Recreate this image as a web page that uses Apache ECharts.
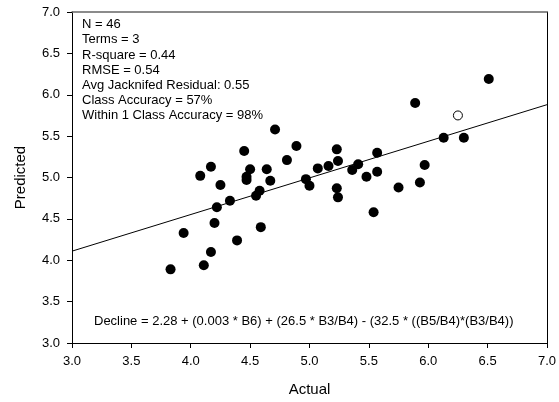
<!DOCTYPE html>
<html>
<head>
<meta charset="utf-8">
<script src="https://cdn.jsdelivr.net/npm/echarts@6/dist/echarts.min.js"></script>
<style>
  html, body { margin: 0; padding: 0; background: #fff; }
  #chart { width: 559px; height: 402px; }
</style>
</head>
<body>
<div id="chart"></div>
<script>
// actual vs predicted
var actual = [4.71, 4.45, 4.89, 4.81, 5.23, 5.24, 4.17, 4.08, 4.50, 4.64,
              4.47, 4.47, 4.67, 4.25, 5.07, 5.16, 4.97, 5.00, 5.23, 5.24,
              4.58, 4.55, 4.33, 4.22, 4.20, 3.94, 4.59, 4.39, 4.17, 4.11,
              3.83, 6.51, 5.89, 6.13, 6.30, 5.57, 5.41, 5.36, 5.48, 5.57,
              5.97, 5.75, 5.93, 5.54];
var predicted = [5.58, 5.32, 5.38, 5.21, 5.34, 5.20, 5.13, 5.02, 5.10, 5.10,
                 5.01, 4.97, 4.96, 4.91, 5.11, 5.14, 4.98, 4.90, 4.87, 4.76,
                 4.84, 4.78, 4.72, 4.64, 4.45, 4.33, 4.40, 4.24, 4.10, 3.94,
                 3.89, 6.19, 5.90, 5.48, 5.48, 5.30, 5.16, 5.09, 5.01, 5.07,
                 5.15, 4.88, 4.94, 4.58];
// the one open circle
var openActual = [6.25];
var openPredicted = [5.75];
// fitted line end points
var fitX = [3.0, 7.0];
var fitY = [4.11, 5.88];

var statsLines = [
    'N = 46',
    'Terms = 3',
    'R-square = 0.44',
    'RMSE = 0.54',
    'Avg Jacknifed Residual: 0.55',
    'Class Accuracy = 57%',
    'Within 1 Class Accuracy = 98%'
];
var equationText = 'Decline = 2.28 + (0.003 * B6) + (26.5 * B3/B4) - (32.5 * ((B5/B4)*(B3/B4))';

var FONT = '"Liberation Sans", Arial, sans-serif';

function pairs(xs, ys) {
    var out = [];
    for (var i = 0; i < xs.length; i++) out.push([xs[i], ys[i]]);
    return out;
}

var chart = echarts.init(document.getElementById('chart'));

var option = {
    animation: false,
    backgroundColor: '#fff',
    grid: { left: 72, right: 10, top: 12, bottom: 55 },
    xAxis: [{
        type: 'value', min: 3, max: 7, interval: 0.5,
        name: 'Actual', nameLocation: 'middle', nameGap: 39,
        nameTextStyle: { fontFamily: FONT, fontSize: 15, color: '#000' },
        axisLine: { onZero: false, lineStyle: { color: '#000', width: 1 } },
        axisTick: { show: true, inside: false, length: 5, lineStyle: { color: '#000' } },
        axisLabel: {
            fontFamily: FONT, fontSize: 13, color: '#000', margin: 12,
            formatter: function(v) { return v.toFixed(1); }
        },
        splitLine: { show: false }
    }, {
        type: 'value', min: 3, max: 7, position: 'top',
        axisLine: { show: true, onZero: false, lineStyle: { color: '#666', width: 1.5 } },
        axisTick: { show: false }, axisLabel: { show: false }, splitLine: { show: false }
    }],
    yAxis: [{
        type: 'value', min: 3, max: 7, interval: 0.5,
        name: 'Predicted', nameLocation: 'middle', nameGap: 44, nameRotate: 90,
        nameTextStyle: { fontFamily: FONT, fontSize: 15, color: '#000' },
        axisLine: { show: true, onZero: false, lineStyle: { color: '#000', width: 1 } },
        axisTick: { show: true, inside: false, length: 5, lineStyle: { color: '#000' } },
        axisLabel: {
            fontFamily: FONT, fontSize: 13, color: '#000', margin: 12,
            formatter: function(v) { return v.toFixed(1); }
        },
        splitLine: { show: false }
    }, {
        type: 'value', min: 3, max: 7, position: 'right',
        axisLine: { show: true, onZero: false, lineStyle: { color: '#000', width: 1 } },
        axisTick: { show: false }, axisLabel: { show: false }, splitLine: { show: false }
    }],
    series: [{
        name: 'fit',
        type: 'line',
        data: pairs(fitX, fitY),
        symbol: 'none',
        lineStyle: { color: '#000', width: 1 },
        z: 1
    }, {
        name: 'points',
        type: 'scatter',
        data: pairs(actual, predicted),
        symbol: 'circle',
        symbolSize: 10,
        itemStyle: { color: '#000', opacity: 1 },
        z: 3
    }, {
        name: 'open',
        type: 'scatter',
        data: pairs(openActual, openPredicted),
        symbol: 'circle',
        symbolSize: 9,
        itemStyle: { color: '#fff', borderColor: '#000', borderWidth: 1, opacity: 1 },
        z: 3
    }],
    graphic: [{
        type: 'text',
        left: 82, top: 17,
        style: {
            text: statsLines.join('\n'),
            font: '13px ' + FONT,
            fill: '#000',
            lineHeight: 15.2
        }
    }, {
        type: 'text',
        left: 94, top: 315,
        style: {
            text: equationText,
            font: '13px ' + FONT,
            fill: '#000'
        }
    }]
};

chart.setOption(option);
</script>
</body>
</html>
